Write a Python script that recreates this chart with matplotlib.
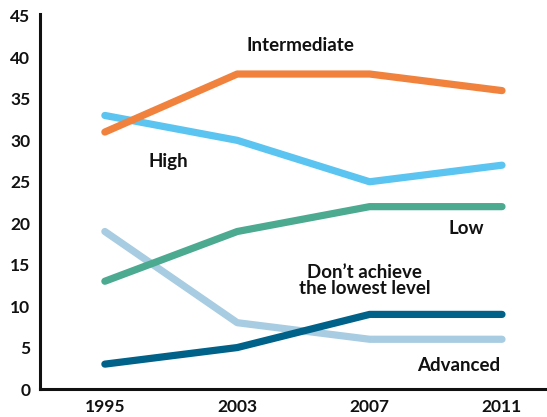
import matplotlib
matplotlib.use("Agg")
import matplotlib.pyplot as plt

years = ["1995", "2003", "2007", "2011"]
intermediate = [31, 38, 38, 36]
high = [33, 30, 25, 27]
low = [13, 19, 22, 22]
advanced = [19, 8, 6, 6]
dont_achieve = [3, 5, 9, 9]
yticks = [0, 5, 10, 15, 20, 25, 30, 35, 40, 45]

plt.rcParams['font.family'] = ['Lato', 'DejaVu Sans']

fig = plt.figure(figsize=(5.47, 4.17), dpi=100)
ax = fig.add_axes([40/547, 28/417, 1 - 40/547, 373/417])

x = list(range(len(years)))
series = [
    (advanced, "#A8CCE1"),
    (dont_achieve, "#006189"),
    (low, "#4BAA8F"),
    (high, "#5BC4F1"),
    (intermediate, "#F0823D"),
]
for vals, col in series:
    ax.plot(x, vals, color=col, lw=5.2, solid_capstyle='round', solid_joinstyle='round')

ax.set_xlim(-0.49, 3.34)
ax.set_ylim(0, 45)
ax.set_xticks(x)
ax.set_xticklabels(years, fontsize=12.5, fontweight='bold')
ax.set_yticks(yticks)
ax.set_yticklabels([str(v) for v in yticks], fontsize=12.5, fontweight='bold')
ax.tick_params(length=0, pad=7, colors='#111111')
for s in ['top', 'right']:
    ax.spines[s].set_visible(False)
for s in ['left', 'bottom']:
    ax.spines[s].set_linewidth(2.2)
    ax.spines[s].set_color('#111111')
ax.spines['left'].set_bounds(0, 45.2)

kw = dict(fontsize=13.5, fontweight='bold', ha='center', va='center', color='#111111')
ax.text(1.48, 41.4, "Intermediate", **kw)
ax.text(0.48, 27.4, "High", **kw)
ax.text(2.73, 19.4, "Low", **kw)
ax.text(1.96, 13.1, "Don\u2019t achieve\nthe lowest level", linespacing=0.95, **kw)
ax.text(2.67, 2.8, "Advanced", **kw)

fig.savefig("out.png", dpi=100)
